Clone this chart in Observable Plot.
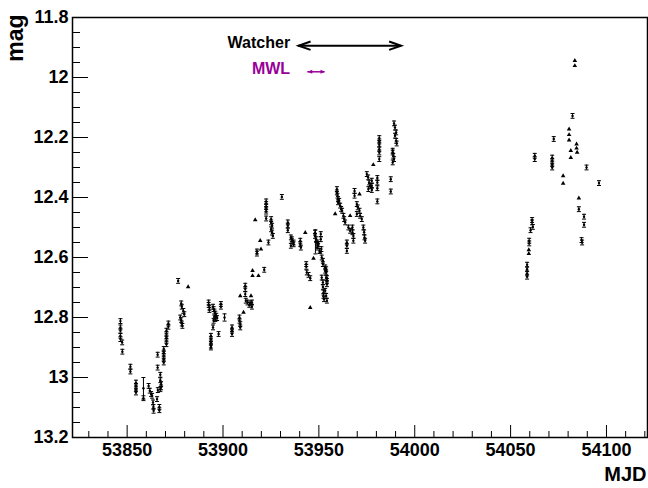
<!DOCTYPE html>
<html><head><meta charset="utf-8">
<script src="https://cdn.jsdelivr.net/npm/d3@7"></script>
<script src="https://cdn.jsdelivr.net/npm/@observablehq/plot@0.6"></script>
<style>body{margin:0;background:#fff;}</style>
</head><body><div id="chart"></div>
<script>
// ---- axis definitions ----
const xDomain = [53821.5, 54121.4];
const yDomain = [13.2, 11.8];
const xTicks = [53850, 53900, 53950, 54000, 54050, 54100];
const xTickLabels = ["53850", "53900", "53950", "54000", "54050", "54100"];
const xMinorTicks = [53830, 53840, 53860, 53870, 53880, 53890, 53910, 53920, 53930, 53940, 53960, 53970, 53980, 53990,
  54010, 54020, 54030, 54040, 54060, 54070, 54080, 54090, 54110, 54120];
const yTicks = [11.8, 12, 12.2, 12.4, 12.6, 12.8, 13, 13.2];
const yTickLabels = ["11.8", "12", "12.2", "12.4", "12.6", "12.8", "13", "13.2"];
const yMinorTicks = [11.85, 11.9, 11.95, 12.05, 12.1, 12.15, 12.25, 12.3, 12.35, 12.45, 12.5, 12.55,
  12.65, 12.7, 12.75, 12.85, 12.9, 12.95, 13.05, 13.1, 13.15];

// ---- annotations ----
const watcherLabel = {x: 53935.0, y: 11.884, text: "Watcher"};
const watcherRange = [53939.4, 53992.9];
const watcherY = 11.894;
const mwlLabel = {x: 53935.0, y: 11.971, text: "MWL"};
const mwlRange = [53944.2, 53953.2];
const mwlY = 11.981;

// ---- data: [MJD, mag, error] points drawn with error bars ----
const errBarPoints = [
  [53846.5,12.812,0.008],[53846.5,12.833,0.008],[53846.5,12.844,0.008],[53846.5,12.861,0.008],[53846.5,12.872,0.008],
  [53847.4,12.883,0.008],[53847.5,12.914,0.008],
  [53851.7,12.964,0.008],[53851.7,12.980,0.008],
  [53854.6,13.017,0.008],[53854.6,13.028,0.008],[53854.6,13.039,0.008],[53854.6,13.050,0.008],
  [53858.5,13.036,0.036],[53858.5,13.069,0.008],
  [53861.2,13.028,0.008],[53861.8,13.044,0.008],[53862.5,13.055,0.008],[53863.0,13.061,0.008],
  [53863.5,13.083,0.008],[53863.7,13.098,0.008],[53863.8,13.111,0.008],
  [53865.6,13.072,0.008],[53865.9,12.924,0.008],[53865.9,12.967,0.008],
  [53866.8,13.098,0.008],[53866.8,13.109,0.008],[53866.0,13.042,0.008],
  [53867.3,13.039,0.008],[53867.3,12.991,0.008],[53867.3,13.009,0.008],[53867.7,13.033,0.008],[53867.7,13.022,0.008],
  [53869.1,12.905,0.008],[53869.1,12.917,0.008],[53869.1,12.928,0.008],[53869.1,12.939,0.008],[53869.1,12.950,0.008],
  [53870.5,12.844,0.008],[53870.5,12.855,0.008],[53870.5,12.867,0.008],[53870.5,12.878,0.008],[53870.5,12.889,0.008],
  [53871.5,12.820,0.008],[53871.5,12.831,0.008],
  [53876.6,12.678,0.008],
  [53878.2,12.753,0.008],[53878.2,12.809,0.008],[53878.5,12.764,0.008],[53878.5,12.820,0.008],
  [53879.3,12.778,0.008],[53879.8,12.789,0.008],[53877.7,12.800,0.008],[53878.8,12.828,0.008],
  [53892.5,12.750,0.008],[53892.5,12.758,0.008],[53892.9,12.767,0.008],[53892.9,12.775,0.008],
  [53893.7,12.861,0.008],[53893.7,12.872,0.008],[53893.7,12.883,0.008],[53893.7,12.894,0.008],[53893.7,12.900,0.008],
  [53894.8,12.764,0.008],[53894.8,12.833,0.008],[53895.1,12.772,0.008],[53895.1,12.811,0.008],
  [53895.5,12.780,0.008],[53895.5,12.800,0.008],[53896.0,12.787,0.008],[53896.0,12.805,0.008],
  [53896.5,12.794,0.008],[53896.9,12.802,0.008],[53897.7,12.855,0.008],
  [53898.9,12.755,0.008],[53898.9,12.764,0.008],[53900.8,12.800,0.012],
  [53904.7,12.833,0.008],[53904.7,12.844,0.008],[53904.7,12.855,0.008],
  [53908.6,12.800,0.008],[53908.6,12.811,0.008],[53909.0,12.822,0.008],[53909.0,12.833,0.008],
  [53911.6,12.694,0.008],[53911.6,12.705,0.008],[53911.6,12.722,0.008],[53911.9,12.744,0.008],
  [53912.8,12.750,0.008],[53913.7,12.758,0.008],[53914.2,12.753,0.008],[53915.1,12.750,0.008],[53915.1,12.764,0.008],
  [53921.5,12.641,0.008],[53917.7,12.580,0.008],[53917.7,12.587,0.008],
  [53922.5,12.413,0.008],[53922.5,12.422,0.008],[53922.5,12.431,0.008],[53922.5,12.440,0.008],[53922.5,12.447,0.008],[53922.5,12.470,0.008],
  [53923.7,12.550,0.008],
  [53925.1,12.472,0.008],[53925.1,12.483,0.008],[53925.1,12.506,0.008],[53925.6,12.494,0.008],[53925.6,12.517,0.008],[53926.0,12.528,0.008],
  [53930.7,12.398,0.008],
  [53933.8,12.483,0.008],[53933.8,12.494,0.008],[53933.8,12.509,0.008],
  [53935.4,12.533,0.008],[53935.4,12.561,0.008],[53935.9,12.544,0.008],[53935.9,12.539,0.008],[53936.8,12.550,0.008],[53936.8,12.556,0.008],
  [53940.3,12.544,0.008],[53940.3,12.555,0.008],[53940.6,12.567,0.008],
  [53943.4,12.622,0.008],[53943.4,12.631,0.008],[53943.7,12.650,0.008],[53944.6,12.658,0.008],[53945.5,12.669,0.008],
  [53948.0,12.517,0.008],[53948.0,12.528,0.008],[53948.2,12.548,0.040],[53948.6,12.539,0.008],
  [53949.1,12.550,0.008],[53949.1,12.567,0.008],[53949.6,12.561,0.008],[53949.8,12.555,0.008],[53950.3,12.578,0.008],
  [53951.0,12.522,0.008],[53951.0,12.539,0.008],[53951.3,12.572,0.008],
  [53951.5,12.600,0.008],[53951.5,12.667,0.008],[53952.1,12.611,0.008],[53952.1,12.683,0.008],[53952.1,12.698,0.008],
  [53952.1,12.622,0.008],[53952.4,12.717,0.008],[53952.4,12.728,0.008],[53952.7,12.739,0.008],
  [53953.3,12.633,0.008],[53953.3,12.644,0.008],[53953.3,12.711,0.008],
  [53953.8,12.639,0.008],[53953.8,12.650,0.008],[53953.8,12.667,0.008],[53953.8,12.728,0.008],
  [53954.2,12.669,0.008],[53954.2,12.678,0.008],[53954.2,12.689,0.008],[53954.2,12.744,0.008],
  [53959.4,12.372,0.008],[53959.4,12.383,0.008],[53959.7,12.394,0.008],[53960.0,12.405,0.008],[53960.0,12.416,0.008],
  [53960.6,12.411,0.008],[53961.1,12.427,0.008],[53961.6,12.438,0.008],[53962.1,12.444,0.008],
  [53962.8,12.461,0.008],[53963.2,12.472,0.008],[53963.7,12.483,0.008],
  [53964.6,12.550,0.008],[53964.6,12.561,0.008],[53964.6,12.578,0.008],
  [53965.4,12.500,0.008],[53966.3,12.511,0.008],
  [53967.5,12.500,0.008],[53967.5,12.516,0.008],[53968.0,12.528,0.008],[53968.0,12.544,0.008],
  [53968.6,12.378,0.008],[53968.6,12.394,0.008],
  [53969.8,12.422,0.008],[53969.8,12.455,0.008],[53970.3,12.433,0.008],[53971.2,12.444,0.008],[53971.5,12.461,0.008],[53972.4,12.472,0.008],
  [53973.2,12.500,0.008],[53973.6,12.516,0.008],[53973.8,12.533,0.008],[53974.1,12.544,0.008],
  [53975.0,12.322,0.008],[53975.7,12.333,0.008],[53976.2,12.350,0.008],[53976.7,12.361,0.008],[53975.8,12.372,0.008],
  [53977.6,12.344,0.008],[53977.6,12.361,0.008],[53977.6,12.375,0.008],
  [53980.5,12.335,0.008],[53980.5,12.350,0.008],[53980.5,12.369,0.008],[53980.5,12.413,0.008],
  [53981.5,12.202,0.008],[53981.5,12.213,0.008],[53981.5,12.224,0.008],[53981.5,12.239,0.008],[53981.5,12.250,0.008],[53981.5,12.272,0.008],
  [53987.5,12.339,0.008],[53987.5,12.380,0.008],
  [53988.5,12.244,0.008],[53988.5,12.250,0.008],[53988.5,12.283,0.008],[53988.8,12.261,0.008],[53989.2,12.272,0.008],
  [53989.2,12.153,0.008],[53989.7,12.167,0.008],[53989.7,12.194,0.008],[53990.3,12.183,0.008],[53990.3,12.211,0.008],[53990.6,12.220,0.008],
  [54082.3,12.128,0.008],[54072.5,12.205,0.008],
  [54062.6,12.261,0.008],[54062.6,12.272,0.008],
  [54071.7,12.267,0.008],[54071.7,12.278,0.008],[54071.7,12.289,0.008],[54071.7,12.300,0.008],
  [54089.6,12.300,0.008],[54096.1,12.352,0.008],[54085.6,12.439,0.008],
  [54088.3,12.464,0.008],[54088.3,12.491,0.008],[54087.0,12.542,0.008],[54087.3,12.550,0.008],
  [54061.2,12.475,0.008],[54061.2,12.483,0.008],[54061.6,12.498,0.008],[54060.4,12.509,0.008],
  [54059.7,12.544,0.008],[54059.7,12.553,0.008],
  [54058.6,12.624,0.008],[54058.6,12.639,0.008],[54058.6,12.653,0.008],[54058.6,12.664,0.008]
];

// ---- data: [MJD, mag] points drawn as small triangles ----
const trianglePoints = [
  [53881.8,12.698],
  [53909.0,12.728],[53910.7,12.783],[53914.6,12.728],[53915.4,12.644],[53915.4,12.661],[53918.5,12.661],
  [53919.4,12.544],[53919.8,12.572],[53916.8,12.475],
  [53942.9,12.517],[53945.5,12.767],[53947.2,12.603],[53950.7,12.583],
  [53958.5,12.455],[53966.3,12.461],[53971.2,12.389],[53978.4,12.291],
  [54083.5,11.944],[54083.5,11.961],
  [54080.5,12.172],[54080.5,12.191],[54080.5,12.209],
  [54084.4,12.222],[54084.4,12.236],[54084.7,12.250],
  [54081.4,12.244],[54081.4,12.267],
  [54077.4,12.328],[54077.4,12.353],
  [54085.6,12.402],
  [54059.5,12.575],[54059.5,12.587]
];

const E = errBarPoints.map(([mjd, mag, err]) => ({mjd, mag, err}));
const T = trianglePoints.map(([mjd, mag]) => ({mjd, mag}));

// custom symbols
const capSymbol = {draw(ctx, size) { const r = Math.sqrt(size / Math.PI); ctx.moveTo(-r, 0); ctx.lineTo(r, 0); }};
const openHead = {draw(ctx, size) { const r = Math.sqrt(size / Math.PI); ctx.moveTo(2 * r, -0.7 * r); ctx.lineTo(0, 0); ctx.lineTo(2 * r, 0.7 * r); }};
const filledHead = {draw(ctx, size) { const r = Math.sqrt(size / Math.PI); ctx.moveTo(0, 0); ctx.lineTo(1.8 * r, -0.8 * r); ctx.lineTo(1.8 * r, 0.8 * r); ctx.closePath(); }};

const purple = "#990099";

const chart = Plot.plot({
  width: 648,
  height: 488,
  marginLeft: 72,
  marginRight: 1,
  marginTop: 17,
  marginBottom: 51,
  style: {fontFamily: "'Liberation Sans', Arial, Helvetica, sans-serif", fontWeight: "bold", fontSize: "18px", background: "white", color: "black"},
  x: {domain: xDomain},
  y: {domain: yDomain},
  marks: [
    // axes: ticks drawn inward
    Plot.axisX(xTicks, {tickSize: -12, tickFormat: () => "", strokeWidth: 1}),
    Plot.axisX(xMinorTicks, {tickSize: -6, tickFormat: () => "", strokeWidth: 1}),
    Plot.axisX(xTicks, {tickSize: 0, tickPadding: 6, tickFormat: (d, i) => xTickLabels[i], fontSize: 18, fontWeight: "bold", label: null}),
    Plot.axisY(yTicks, {tickSize: -16, tickFormat: () => "", strokeWidth: 1}),
    Plot.axisY(yMinorTicks, {tickSize: -8, tickFormat: () => "", strokeWidth: 1}),
    Plot.axisY(yTicks, {tickSize: 0, tickPadding: 4, tickFormat: (d, i) => yTickLabels[i], fontSize: 18, fontWeight: "bold", label: null}),
    Plot.frame({stroke: "black", strokeWidth: 1.5}),
    // axis titles
    Plot.text(["mag"], {frameAnchor: "top-left", rotate: -90, textAnchor: "end", dx: -66, dy: -3, fontSize: 23, fontWeight: "bold"}),
    Plot.text(["MJD"], {frameAnchor: "bottom-right", textAnchor: "end", dx: -1, dy: 43, fontSize: 20, fontWeight: "bold"}),
    // data: error bars
    Plot.ruleX(E, {x: "mjd", y1: d => d.mag - d.err, y2: d => d.mag + d.err, stroke: "black", strokeWidth: 1}),
    Plot.dot(E, {x: "mjd", y: d => d.mag - d.err, symbol: capSymbol, r: 2, stroke: "black", strokeWidth: 1}),
    Plot.dot(E, {x: "mjd", y: d => d.mag + d.err, symbol: capSymbol, r: 2, stroke: "black", strokeWidth: 1}),
    Plot.dot(E, {x: "mjd", y: "mag", r: 1.2, fill: "black", stroke: null}),
    Plot.dot(T, {x: "mjd", y: "mag", symbol: "triangle", r: 1.7, fill: "black", stroke: null}),
    // annotations
    Plot.text([watcherLabel], {x: "x", y: "y", text: "text", textAnchor: "end", fontSize: 16, fontWeight: "bold", fill: "black"}),
    Plot.ruleY([watcherY], {x1: watcherRange[0], x2: watcherRange[1], stroke: "black", strokeWidth: 2}),
    Plot.dot(watcherRange.map((x, i) => ({x, y: watcherY, rot: i === 0 ? 0 : 180})), {x: "x", y: "y", rotate: "rot", symbol: openHead, r: 6, stroke: "black", strokeWidth: 2, fill: "none"}),
    Plot.text([mwlLabel], {x: "x", y: "y", text: "text", textAnchor: "end", fontSize: 16, fontWeight: "bold", fill: purple}),
    Plot.ruleY([mwlY], {x1: mwlRange[0], x2: mwlRange[1], stroke: purple, strokeWidth: 1.5}),
    Plot.dot(mwlRange.map((x, i) => ({x, y: mwlY, rot: i === 0 ? 0 : 180})), {x: "x", y: "y", rotate: "rot", symbol: filledHead, r: 2.5, fill: purple, stroke: null})
  ]
});
document.getElementById("chart").appendChild(chart);
</script>
</body></html>
